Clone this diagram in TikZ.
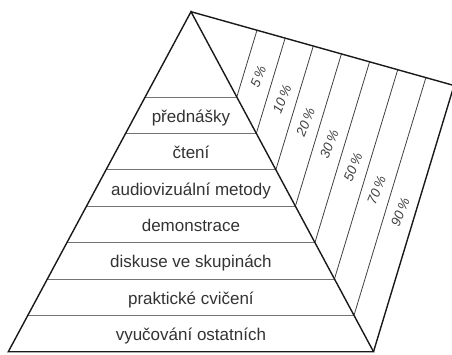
\documentclass[tikz,border=0pt]{standalone}
\usepackage{fontspec}
\setmainfont{Liberation Sans}
\usetikzlibrary{calc,positioning}

\tikzset{
	outline/.style={line width=1.4pt, draw=black!90, line join=miter},
	bandline/.style={line width=0.8pt, draw=black!55},
	divider/.style={line width=0.8pt, draw=black!75},
	band/.style={inner sep=0pt, text height=12.2pt, text depth=0pt, text=black!80, font=\fontsize{17}{20}\selectfont},
	share/.style={inner sep=0pt, rotate=68, text=black!75, font=\fontsize{13.5}{15}\selectfont\itshape}
}

\begin{document}
\begin{tikzpicture}[x=1pt, y=-1pt]
	\useasboundingbox (0,0) rectangle (452,354);
	\coordinate (apex)	at (191,11.7);
	\coordinate (bl)	at (8.3,351.7);
	\coordinate (br)	at (373.5,351.7);
	\coordinate (tr)	at (454,85.5);
	% points on the edges, one for each band line
	\foreach \k in {0,...,7}{
		\pgfmathsetmacro{\t}{0.2509+0.10703*\k}
		\coordinate (l\k) at ($(apex)!\t!(bl)$);
		\coordinate (r\k) at ($(apex)!\t!(br)$);
		\coordinate (u\k) at ($(apex)!\t!(tr)$);
	}
	\foreach \k in {0,...,6}{
		\draw [bandline]	(l\k) -- (r\k);
		\draw [divider]	(r\k) -- (u\k);
	}
	\draw [outline]	(bl) -- (apex) -- (br) -- cycle;
	\draw [outline]	(apex) -- (tr) -- (br);
	% methods
	\foreach \k/\j/\name in {0/1/přednášky, 1/2/čtení, 2/3/audiovizuální metody, 3/4/demonstrace,
			4/5/diskuse ve skupinách, 5/6/praktické cvičení, 6/7/vyučování ostatních}
		\node [band] (method\k) at ($0.25*(l\k)+0.25*(r\k)+0.25*(l\j)+0.25*(r\j)+(0,1)$) {\name};
	% retention
	\foreach \k/\p in {0/5, 1/10, 2/20, 3/30, 4/50, 5/70, 6/90}{
		\pgfmathsetmacro{\t}{0.2509+0.10703*(\k+0.5)}
		\coordinate (lo\k) at ($(apex)!\t!(br)$);
		\coordinate (up\k) at ($(apex)!\t!(tr)$);
		\node [share] (share\k) at ($(lo\k)!0.48!(up\k)$) {\p\,\%};
	}
\end{tikzpicture}
\end{document}
